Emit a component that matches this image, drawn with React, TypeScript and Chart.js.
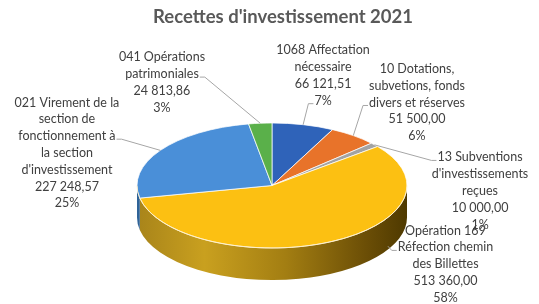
import React, { useEffect, useRef } from 'react';
import { Chart, registerables } from 'chart.js';

Chart.register(...registerables);

const TITLE = "Recettes d'investissement 2021";

const categories: string[][] = [
  ['1068 Affectation', 'nécessaire'],
  ['10 Dotations,', 'subvetions, fonds', 'divers et réserves'],
  ['13 Subventions', "d'investissements", 'reçues'],
  ['Opération 169', 'Réfection chemin', 'des Billettes'],
  ['021 Virement de la', 'section de', 'fonctionnement à', 'la section', "d'investissement"],
  ['041 Opérations', 'patrimoniales'],
];
const values = [66121.51, 51500.0, 10000.0, 513360.0, 227248.57, 24813.86];
const valueLabels = ['66 121,51', '51 500,00', '10 000,00', '513 360,00', '227 248,57', '24 813,86'];
const percentLabels = ['7%', '6%', '1%', '58%', '25%', '3%'];

const faceColors = ['#2F63B9', '#E8732A', '#A3A3A3', '#FCC012', '#4A8FD8', '#5AB04A'];
const sideColors = ['#1F4580', '#A4501C', '#707070', '#A88210', '#2F6398', '#3E7C32'];

// label layout (block centre relative to pie centre, in units of radius)
const labelLayout = [
  { dx: 0.378, dy: -0.815, line: 3, side: 'left', frac: 0.5, drop: 0 },
  { dx: 1.074, dy: -0.615, line: 2, side: 'left', frac: 0.5, drop: 0 },
  { dx: 1.541, dy: 0.041, line: 0, side: 'left', frac: 0.5, drop: 0 },
  { dx: 1.285, dy: 0.583, line: 1, side: 'left', frac: 0.335, drop: 0.9 },
  { dx: -1.519, dy: -0.241, line: 2, side: 'right', frac: 0.5, drop: 0 },
  { dx: -0.815, dy: -0.763, line: 1, side: 'right', frac: 0.5, drop: 0 },
];

const TILT = 0.463;
const DEPTH = 32;
const LINE_H = 16.8;
const LABEL_FONT = '12.5px Lato';

function pt(cx: number, cy: number, R: number, a: number) {
  return { x: cx + R * Math.cos(a), y: cy + R * TILT * Math.sin(a) };
}

const pie3d = {
  id: 'pie3d',
  beforeDatasetsDraw(chart: any) {
    const ctx = chart.ctx as CanvasRenderingContext2D;
    const arcs = chart.getDatasetMeta(0).data as any[];
    if (!arcs.length) return;
    const cx = arcs[0].x, cy = arcs[0].y, R = arcs[0].outerRadius;
    // sides
    arcs.forEach((arc, i) => {
      const ranges: [number, number][] = [];
      const s = arc.startAngle, e = arc.endAngle;
      for (const [v0, v1] of [[0, Math.PI], [2 * Math.PI, 3 * Math.PI], [-2 * Math.PI, -Math.PI]]) {
        const a0 = Math.max(s, v0), a1 = Math.min(e, v1);
        if (a1 > a0) ranges.push([a0, a1]);
      }
      ranges.forEach(([a0, a1]) => {
        ctx.save();
        ctx.beginPath();
        ctx.ellipse(cx, cy, R, R * TILT, 0, a0, a1, false);
        ctx.ellipse(cx, cy + DEPTH, R, R * TILT, 0, a1, a0, true);
        ctx.closePath();
        const g = ctx.createLinearGradient(cx - R, 0, cx + R, 0);
        if (i === 3) {
          g.addColorStop(0, '#A8841A');
          g.addColorStop(0.25, '#C9A01F');
          g.addColorStop(0.55, '#A37E12');
          g.addColorStop(0.85, '#6B4E06');
          g.addColorStop(1, '#4E3900');
        } else {
          g.addColorStop(0, sideColors[i]);
          g.addColorStop(1, sideColors[i]);
        }
        ctx.fillStyle = g;
        ctx.fill();
        ctx.restore();
      });
    });
    ctx.save();
    ctx.translate(cx, cy);
    ctx.scale(1, TILT);
    ctx.translate(-cx, -cy);
  },
  afterDatasetsDraw(chart: any) {
    const ctx = chart.ctx as CanvasRenderingContext2D;
    ctx.restore();
    const arcs = chart.getDatasetMeta(0).data as any[];
    if (!arcs.length) return;
    const cx = arcs[0].x, cy = arcs[0].y, R = arcs[0].outerRadius;
    // light rim on the front edge
    ctx.save();
    ctx.beginPath();
    ctx.ellipse(cx, cy, R, R * TILT, 0, 0, Math.PI, false);
    ctx.strokeStyle = 'rgba(255,240,200,0.8)';
    ctx.lineWidth = 1;
    ctx.stroke();
    ctx.restore();

    ctx.save();
    ctx.font = LABEL_FONT;
    ctx.textAlign = 'center';
    ctx.textBaseline = 'middle';
    arcs.forEach((arc, i) => {
      const L = labelLayout[i];
      const lines = [...categories[i], valueLabels[i], percentLabels[i]];
      const bx = cx + L.dx * R;
      const by = cy + L.dy * R;
      const y0 = by - ((lines.length - 1) * LINE_H) / 2;
      // leader line
      const ly = y0 + L.line * LINE_H + 3;
      const w = ctx.measureText(lines[L.line]).width;
      const sx = L.side === 'left' ? bx - w / 2 - 1 : bx + w / 2 + 1;
      const tx = L.side === 'left' ? sx - 5 : sx + 5;
      const a = arc.startAngle + (arc.endAngle - arc.startAngle) * L.frac;
      const p = pt(cx, cy, R, a);
      ctx.beginPath();
      ctx.moveTo(sx, ly);
      ctx.lineTo(tx, ly);
      ctx.lineTo(p.x, p.y + L.drop * DEPTH);
      ctx.strokeStyle = '#A6A6A6';
      ctx.lineWidth = 1;
      ctx.stroke();
      ctx.fillStyle = '#404040';
      lines.forEach((t, k) => ctx.fillText(t, bx, y0 + k * LINE_H));
    });
    ctx.restore();
  },
  afterDraw(chart: any) {
    const ctx = chart.ctx as CanvasRenderingContext2D;
    ctx.save();
    ctx.font = 'bold 18.5px Lato';
    ctx.fillStyle = '#595959';
    ctx.textAlign = 'center';
    ctx.textBaseline = 'middle';
    ctx.fillText(TITLE, 283, 17);
    ctx.restore();
  },
};

export default function App() {
  const ref = useRef<HTMLCanvasElement>(null);
  useEffect(() => {
    if (!ref.current) return;
    const chart = new Chart(ref.current, {
      type: 'pie',
      data: {
        labels: categories.map((c) => c.join(' ')),
        datasets: [
          {
            data: values,
            backgroundColor: faceColors,
            borderColor: '#FFFFFF',
            borderWidth: 1,
            radius: 135,
          } as any,
        ],
      },
      options: {
        responsive: false,
        animation: false,
        layout: { padding: { left: 5, right: 0, top: 67, bottom: 0 } },
        plugins: {
          legend: { display: false },
          title: { display: false },
          tooltip: { enabled: false },
        },
      },
      plugins: [pie3d],
    });
    return () => chart.destroy();
  }, []);
  return (
    <div style={{ position: 'absolute', left: 0, top: 0, width: 539, height: 304, background: '#fff' }}>
      <canvas ref={ref} width={539} height={304} style={{ width: 539, height: 304 }} />
    </div>
  );
}
